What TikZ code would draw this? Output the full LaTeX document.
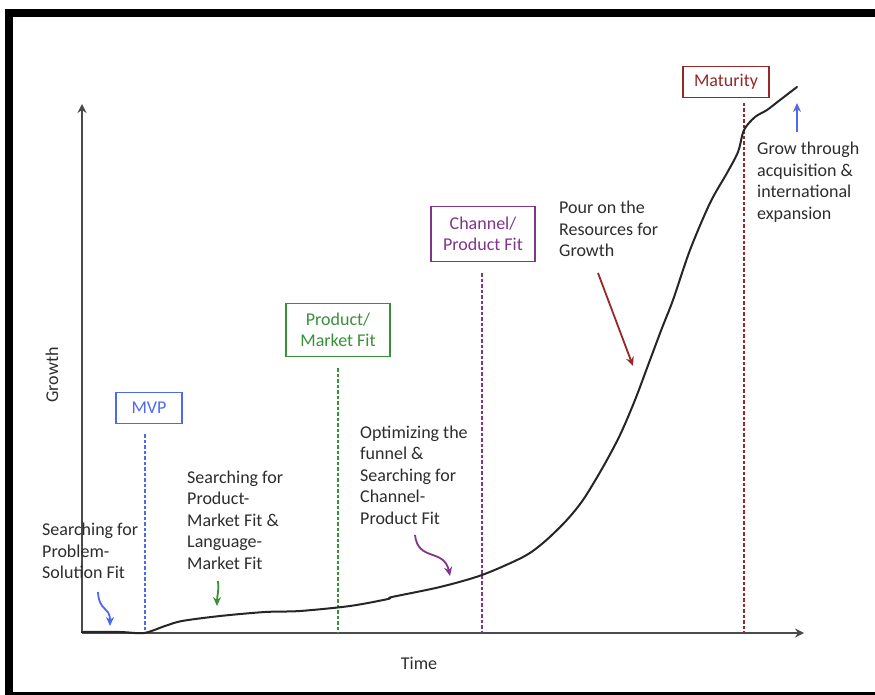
\documentclass[tikz,border=0pt]{standalone}
\usepackage{fontspec}
\setmainfont{Carlito}
\usetikzlibrary{arrows.meta}
\definecolor{mvpblue}{RGB}{77,105,240}
\definecolor{pmfgreen}{RGB}{56,145,56}
\definecolor{cpfpurple}{RGB}{128,52,140}
\definecolor{matred}{RGB}{150,40,40}
\definecolor{inkgray}{RGB}{45,45,45}
\definecolor{axisgray}{RGB}{75,75,75}
\begin{document}
\begin{tikzpicture}[x=1pt,y=-1pt,
  stage/.style={draw=#1, text=#1, line width=1.5pt, align=center,
    font=\fontsize{18}{21}\selectfont, inner sep=0pt},
  note/.style={text=inkgray, align=left, anchor=west, inner sep=0pt,
    font=\fontsize{18}{21.5}\selectfont},
  axislabel/.style={text=inkgray, inner sep=0pt, font=\fontsize{18}{21}\selectfont},
  milestone/.style={#1, line width=2.2pt, dash pattern=on 3.5pt off 2pt},
  pointer/.style={#1, line width=1.8pt, -{Stealth[length=9pt,width=8pt]}},
  axis/.style={axisgray, line width=1.6pt, -{Stealth[length=9pt,width=9pt,inset=3pt]}}
]
\useasboundingbox (0,0) rectangle (875,695);
\fill[white] (0,0) rectangle (875,695);

% picture frame
\fill[black] (5,9) rectangle (875,17);
\fill[black] (5,9) rectangle (13,695);
\fill[black] (5,692) rectangle (875,695);

% axes
\coordinate (O) at (82,633);
\coordinate (ytip) at (82,104);
\coordinate (xtip) at (804,633);
\draw[axis] (O) -- (ytip);
\draw[axis] (O) -- (xtip);
\node[axislabel, rotate=90] (glabel) at (52,375) {Growth};
\node[axislabel] (tlabel) at (419,663) {Time};

% milestone markers
\node[stage=mvpblue, minimum width=66pt, minimum height=31pt] (mvp) at (149,408) {MVP};
\node[stage=pmfgreen, minimum width=104pt, minimum height=53pt] (pmf) at (338,330) {Product/\\Market Fit};
\node[stage=cpfpurple, minimum width=104pt, minimum height=55pt] (cpf) at (483,234) {Channel/\\Product Fit};
\node[stage=matred, minimum width=86pt, minimum height=31pt] (mat) at (726,82) {Maturity};

\coordinate (mvpT) at (145,434);  \coordinate (mvpB) at (145,633);
\coordinate (pmfT) at (338,368);  \coordinate (pmfB) at (338,633);
\coordinate (cpfT) at (482,273);  \coordinate (cpfB) at (482,633);
\coordinate (matT) at (744,103);  \coordinate (matB) at (744,633);
\draw[milestone=mvpblue] (mvpT) -- (mvpB);
\draw[milestone=pmfgreen] (pmfT) -- (pmfB);
\draw[milestone=cpfpurple] (cpfT) -- (cpfB);
\draw[milestone=matred] (matT) -- (matB);

% growth curve
\draw[black!85, line width=2pt, line join=round, line cap=round]
  plot[smooth, tension=0.5] coordinates {
  (82,632) (120,632) (144,633) (165,626) (182,621) (220,616) (265,612)
  (300,611) (350,606) (388,599) (392,597) (440,587) (482,575) (523,557)
  (543,543) (565,522) (583,500) (603,467) (620,435) (635,400) (650,360)
  (662,328) (673,300) (690,250) (710,203) (727,173) (738,152) (744,130)
  (755,117) (767,110) (780,100) (797,87)};

% annotations
\node[note] (psfit) at (42,551) {Searching for\\Problem-\\Solution Fit};
\node[note] (pmsearch) at (187,520) {Searching for\\Product-\\Market Fit \&\\Language-\\Market Fit};
\node[note] (funnel) at (360,475) {Optimizing the\\funnel \&\\Searching for\\Channel-\\Product Fit};
\node[note] (pour) at (559,229) {Pour on the\\Resources for\\Growth};
\node[note] (grow) at (757,182) {Grow through\\acquisition \&\\international\\expansion};

\coordinate (a1s) at (98,592);   \coordinate (a1e) at (110,626);
\coordinate (a2s) at (218,581);  \coordinate (a2e) at (217,606);
\coordinate (a3s) at (415,535);  \coordinate (a3e) at (450,576);
\coordinate (a4s) at (598,273);  \coordinate (a4e) at (633,366);
\coordinate (a5s) at (797,132);  \coordinate (a5e) at (797,103);
\draw[pointer=mvpblue] (a1s) .. controls (99,612) and (110,606) .. (a1e);
\draw[pointer=pmfgreen] (a2s) .. controls (219,592) and (217,596) .. (a2e);
\draw[pointer=cpfpurple] (a3s) .. controls (418,562) and (444,548) .. (a3e);
\draw[pointer=matred] (a4s) -- (a4e);
\draw[pointer=mvpblue] (a5s) -- (a5e);
\end{tikzpicture}
\end{document}
